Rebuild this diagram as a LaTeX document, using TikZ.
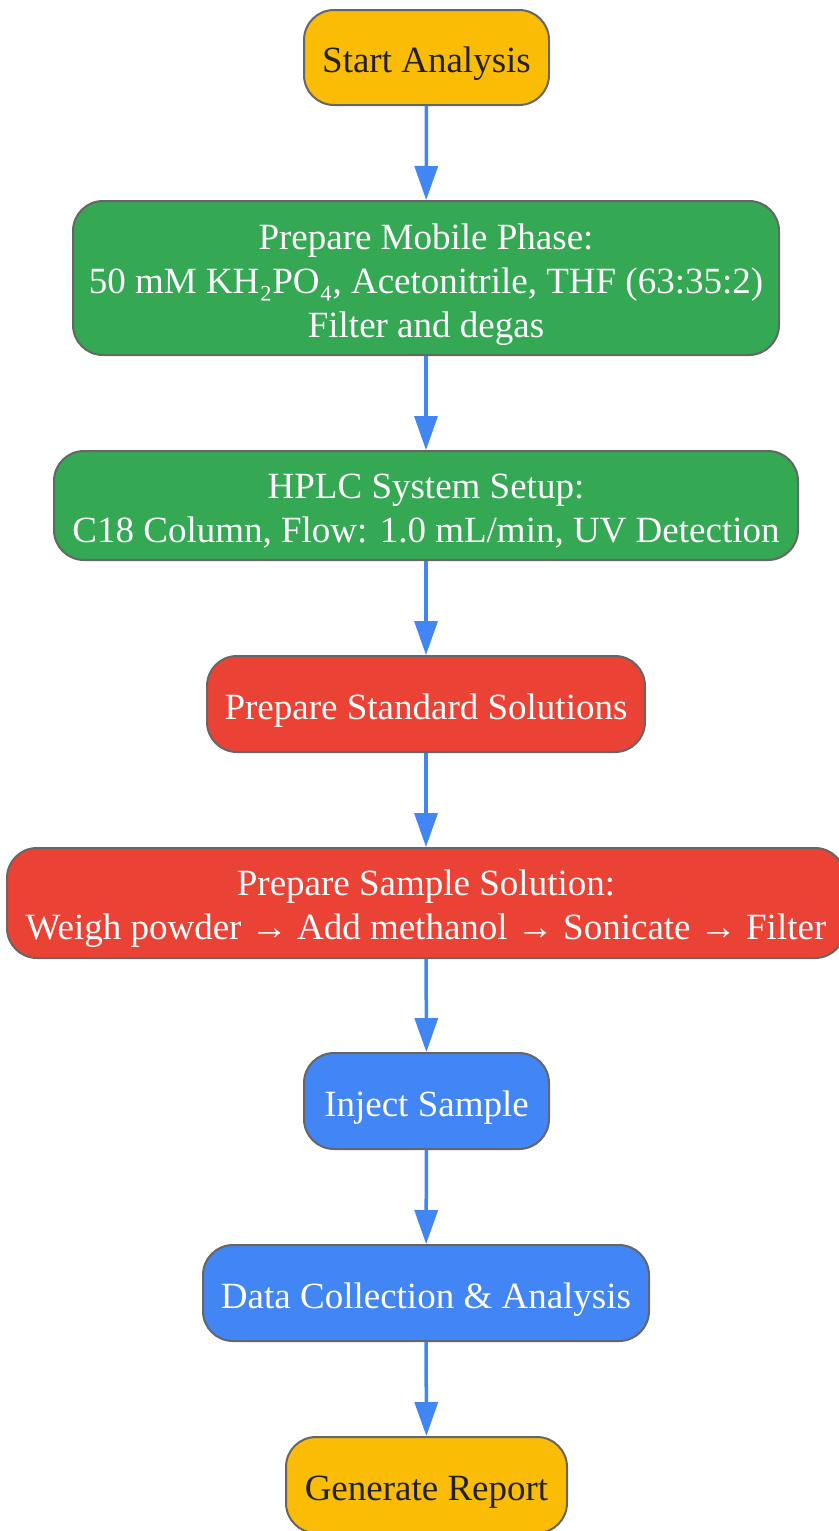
\documentclass[tikz,border=0pt]{standalone}
\usepackage{fontspec}
\setmainfont{Liberation Serif}
\usepackage{tikz}
\usetikzlibrary{calc}
\usetikzlibrary{arrows.meta}
\definecolor{gyellow}{HTML}{FBBC05}
\definecolor{ggreen}{HTML}{34A853}
\definecolor{gred}{HTML}{EA4335}
\definecolor{gblue}{HTML}{4285F4}
\definecolor{edgegray}{HTML}{666666}
\definecolor{darktext}{HTML}{222222}
\tikzset{
   box/.style={rounded corners=30pt, draw=edgegray, line width=2pt,
      align=center, inner sep=0pt,
      font=\fontsize{37}{44}\selectfont,
      execute at begin node={\rule{0pt}{38pt}}},
   multiline/.style={text height=#1, text depth=0pt},
   terminal/.style={box, fill=gyellow, text=darktext},
   prep/.style={box, fill=ggreen, text=white},
   solution/.style={box, fill=gred, text=white},
   measure/.style={box, fill=gblue, text=white},
   flow/.style={draw=gblue, line width=3.5pt,
      -{Triangle[width=23pt,length=34pt]}},
    }
\begin{document}
\begin{tikzpicture}[x=1pt,y=-1pt]
        \useasboundingbox (0,0) rectangle (838,1531);
        % nodes
        \node[terminal, minimum width=245pt, minimum height=95pt] (start) at (426.5,57.5) {Start Analysis};
        \node[prep, multiline=119pt, minimum width=706pt, minimum height=154pt] (mobile) at (426,278) {Prepare Mobile Phase:\\50 mM KH₂PO₄, Acetonitrile, THF (63:35:2)\\Filter and degas};
        \node[prep, multiline=73pt, minimum width=744pt, minimum height=109pt] (hplc) at (426,505.5) {HPLC System Setup:\\C18 Column, Flow: 1.0 mL/min, UV Detection};
        \node[solution, minimum width=438pt, minimum height=96pt] (standard) at (426,704) {Prepare Standard Solutions};
        \node[solution, multiline=73pt, minimum width=838pt, minimum height=110pt] (sample) at (426,903) {Prepare Sample Solution:\\Weigh powder → Add methanol → Sonicate → Filter};
        \node[measure, minimum width=245pt, minimum height=96pt] (inject) at (426.5,1101) {Inject Sample};
        \node[measure, minimum width=446pt, minimum height=96pt] (data) at (426,1293) {Data Collection \& Analysis};
        \node[terminal, minimum width=281pt, minimum height=96pt] (report) at (426.5,1485) {Generate Report};
        % connectors
        \draw[flow] (start) -- (mobile);
        \draw[flow] (mobile) -- (hplc);
        \draw[flow] (hplc) -- (standard);
        \draw[flow] (standard) -- (sample);
        \draw[flow] (sample) -- (inject);
        \draw[flow] (inject) -- (data);
        \draw[flow] (data) -- (report);
        \end{tikzpicture}
\end{document}
